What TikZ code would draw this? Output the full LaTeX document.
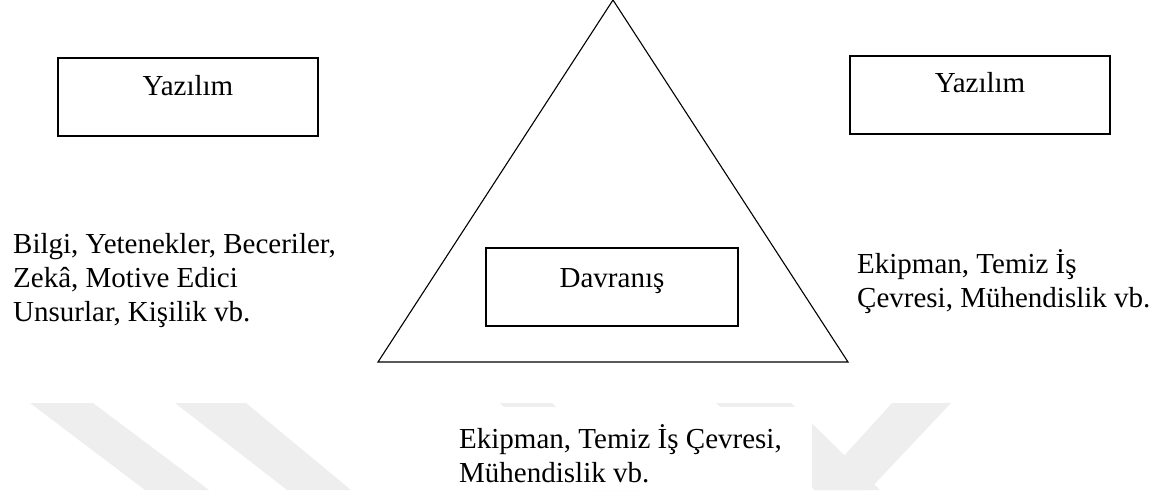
\documentclass[tikz,border=0pt]{standalone}
\usepackage{fontspec}
\setmainfont{Liberation Serif}
\usetikzlibrary{positioning}
\definecolor{MarkGray}{RGB}{238,238,238}

\begin{document}
\begin{tikzpicture}[x=1pt, y=-1pt,
  frame/.style={draw, line width=1.1pt, minimum width=260pt, minimum height=78pt, inner sep=0pt, font=\fontsize{29}{34}\selectfont},
  notes/.style={anchor=north west, inner sep=0pt, align=left, font=\fontsize{29}{34}\selectfont},
  stripe/.style={fill=MarkGray, draw=none}
]
\useasboundingbox (0,0) rectangle (1167,490);

% faint watermark stripes at the bottom
\fill[stripe] (30,403) -- (93,403) -- (209,490) -- (145,490) -- cycle;
\fill[stripe] (175,403) -- (246,403) -- (351,490) -- (287,490) -- cycle;
\fill[stripe] (500,403) -- (552,403) -- (640,490) -- (585,490) -- cycle;
\fill[stripe] (716,403) -- (791,403) -- (880,490) -- (815,490) -- cycle;
\fill[stripe] (892,403) -- (951,403) -- (869,490) -- (813,490) -- cycle;

% triangle
\coordinate (tepe) at (613,0);
\coordinate (solalt) at (378,362);
\coordinate (sagalt) at (848,362);
\draw[line width=1.1pt, line join=miter] (tepe) -- (sagalt) -- (solalt) -- cycle;

% boxes
\node[frame, text height=19pt, text depth=23pt] (yazsol) at (188,97) {Yazılım};
\node[frame, text height=19pt, text depth=25pt] (yazsag) at (980,95) {Yazılım};
\node[frame, minimum width=252pt, text height=19pt, text depth=19pt] (davranis) at (612,287) {Davranış};

% texts
\node[notes] (bilgi) at (13,233) {Bilgi, Yetenekler, Beceriler,\\Zekâ, Motive Edici\\Unsurlar, Kişilik vb.};
\node[notes] (ekipsag) at (857,249) {Ekipman, Temiz İş\\Çevresi, Mühendislik vb.};
\fill[white] (440,407) rectangle (812,490);
\node[notes] (ekipalt) at (459,424) {Ekipman, Temiz İş Çevresi,\\Mühendislik vb.};
\end{tikzpicture}
\end{document}
